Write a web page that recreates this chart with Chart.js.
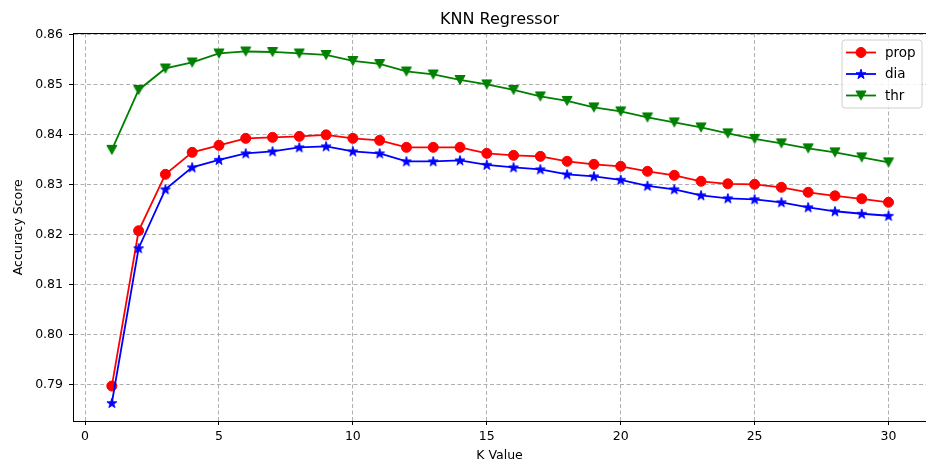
<!DOCTYPE html>
<html>
<head>
<meta charset="utf-8">
<title>KNN Regressor</title>
<script src="https://cdn.jsdelivr.net/npm/chart.js@4.4.1/dist/chart.umd.min.js"></script>
<style>
  html, body { margin: 0; padding: 0; background: #ffffff; }
  #knn-chart { display: block; }
</style>
</head>
<body>
<canvas id="knn-chart" width="926" height="463"></canvas>
<script>
// KNN regressor accuracy for each K, one series per feature set.

const kValues = [1, 2, 3, 4, 5, 6, 7, 8, 9, 10, 11, 12, 13, 14, 15, 16, 17, 18, 19, 20, 21, 22, 23, 24, 25, 26, 27, 28, 29, 30];

const propScores = [0.7897, 0.8208, 0.8321, 0.8365, 0.8379, 0.8393, 0.8395, 0.8397, 0.8400, 0.8393,
  0.8389, 0.8375, 0.8375, 0.8375, 0.8363, 0.8359, 0.8357, 0.8347, 0.8341, 0.8337,
  0.8327, 0.8319, 0.8307, 0.8302, 0.8301, 0.8295, 0.8285, 0.8278, 0.8272, 0.8265];

const diaScores = [0.7863, 0.8173, 0.8291, 0.8335, 0.8350, 0.8363, 0.8367, 0.8375, 0.8377, 0.8367,
  0.8363, 0.8347, 0.8347, 0.8349, 0.8340, 0.8335, 0.8331, 0.8321, 0.8317, 0.8310,
  0.8298, 0.8291, 0.8279, 0.8273, 0.8271, 0.8265, 0.8255, 0.8247, 0.8242, 0.8238];

const thrScores = [0.8370, 0.8490, 0.8533, 0.8545, 0.8563, 0.8567, 0.8566, 0.8563, 0.8560, 0.8548,
  0.8542, 0.8527, 0.8521, 0.8510, 0.8501, 0.8490, 0.8477, 0.8468, 0.8455, 0.8447,
  0.8435, 0.8425, 0.8415, 0.8403, 0.8392, 0.8383, 0.8373, 0.8365, 0.8355, 0.8345];

const seriesNames = ['prop', 'dia', 'thr'];
const xTicks = [0, 5, 10, 15, 20, 25, 30];
const yTicks = [0.79, 0.80, 0.81, 0.82, 0.83, 0.84, 0.85, 0.86];

const FONT = "'DejaVu Sans', 'Liberation Sans', sans-serif";

// Filled five point star, like the matplotlib '*' marker
function makeStar(color) {
  const c = document.createElement('canvas');
  c.width = 16; c.height = 16;
  const g = c.getContext('2d');
  const outer = 5.2, inner = outer * 0.382;
  g.beginPath();
  for (let i = 0; i < 10; i++) {
    const r = i % 2 === 0 ? outer : inner;
    const a = -Math.PI / 2 + i * Math.PI / 5;
    const px = 8 + r * Math.cos(a), py = 8.4 + r * Math.sin(a);
    if (i === 0) g.moveTo(px, py); else g.lineTo(px, py);
  }
  g.closePath();
  g.fillStyle = color;
  g.strokeStyle = color;
  g.lineWidth = 1;
  g.lineJoin = 'miter';
  g.fill();
  g.stroke();
  return c;
}

// Downward triangle, like the matplotlib 'v' marker
function makeTriangleDown(color) {
  const c = document.createElement('canvas');
  c.width = 16; c.height = 16;
  const g = c.getContext('2d');
  g.beginPath();
  g.moveTo(3, 3.5);
  g.lineTo(13, 3.5);
  g.lineTo(8, 12.5);
  g.closePath();
  g.fillStyle = color;
  g.strokeStyle = color;
  g.lineWidth = 1;
  g.fill();
  g.stroke();
  return c;
}

const colors = ['#ff0000', '#0000ff', '#008000'];
const markers = ['circle', makeStar(colors[1]), makeTriangleDown(colors[2])];

// Matplotlib style legend drawn inside the plot, top right
const innerLegend = {
  id: 'innerLegend',
  afterDatasetsDraw(chart) {
    const ctx = chart.ctx;
    const area = chart.chartArea;
    const boxW = 80, boxH = 68;
    const bx = area.right - 84, by = area.top + 6.5;
    ctx.save();
    ctx.beginPath();
    ctx.roundRect(bx, by, boxW, boxH, 3);
    ctx.fillStyle = 'rgba(255,255,255,0.85)';
    ctx.fill();
    ctx.strokeStyle = '#d0d0d0';
    ctx.lineWidth = 1;
    ctx.stroke();

    chart.data.datasets.forEach((ds, i) => {
      const cy = by + 12.5 + i * 21.5;
      ctx.beginPath();
      ctx.moveTo(bx + 4, cy);
      ctx.lineTo(bx + 34, cy);
      ctx.strokeStyle = ds.borderColor;
      ctx.lineWidth = ds.borderWidth;
      ctx.stroke();
      ctx.fillStyle = ds.pointBackgroundColor;
      ctx.strokeStyle = ds.pointBorderColor;
      ctx.lineWidth = 1;
      Chart.helpers.drawPoint(ctx, {
        pointStyle: ds.pointStyle,
        rotation: 0,
        radius: ds.pointRadius,
        borderWidth: 1
      }, bx + 19, cy);
      ctx.fillStyle = '#000000';
      ctx.font = '13.5px ' + FONT;
      ctx.textBaseline = 'middle';
      ctx.textAlign = 'left';
      ctx.fillText(ds.label, bx + 43, cy + 0.5);
    });
    ctx.restore();
  }
};

// Top spine of the axes box
const topSpine = {
  id: 'topSpine',
  afterDraw(chart) {
    const ctx = chart.ctx;
    const area = chart.chartArea;
    ctx.save();
    ctx.beginPath();
    ctx.moveTo(area.left, area.top);
    ctx.lineTo(area.right, area.top);
    ctx.strokeStyle = '#000000';
    ctx.lineWidth = 1;
    ctx.stroke();
    ctx.restore();
  }
};

function createKnnChart() {
  const ctx = document.getElementById('knn-chart').getContext('2d');
  const allScores = [propScores, diaScores, thrScores];

  const datasets = allScores.map((scores, i) => ({
    label: seriesNames[i],
    data: kValues.map((k, j) => ({ x: k, y: scores[j] })),
    borderColor: colors[i],
    backgroundColor: colors[i],
    pointBackgroundColor: colors[i],
    pointBorderColor: colors[i],
    pointStyle: markers[i],
    pointRadius: 5,
    pointBorderWidth: 1,
    borderWidth: 1.8,
    tension: 0,
    fill: false,
    order: 3 - i
  }));

  const gridStyle = {
    color: '#b0b0b0',
    lineWidth: 1,
    tickColor: '#000000',
    tickLength: 4,
    tickWidth: 1
  };
  const borderStyle = { color: '#000000', width: 1, dash: [4, 2.5] };

  return new Chart(ctx, {
    type: 'line',
    data: { datasets: datasets },
    options: {
      responsive: false,
      devicePixelRatio: 1,
      animation: false,
      layout: { padding: 0, autoPadding: false },
      plugins: {
        legend: { display: false },
        tooltip: { enabled: false },
        title: {
          display: true,
          fullSize: false,
          text: 'KNN Regressor',
          color: '#000000',
          font: { family: FONT, size: 16, weight: 'normal' },
          padding: { top: 10, bottom: 4.3 }
        }
      },
      scales: {
        x: {
          type: 'linear',
          min: -0.45,
          max: 31.4,
          grid: gridStyle,
          border: borderStyle,
          afterBuildTicks: scale => { scale.ticks = xTicks.map(v => ({ value: v })); },
          afterFit: scale => {
            scale.height = 42;
            scale.paddingLeft = 0;
            scale.paddingRight = 0;
          },
          ticks: {
            color: '#000000',
            padding: 4,
            maxRotation: 0,
            font: { family: FONT, size: 12.5 },
            callback: v => String(v)
          },
          title: {
            display: true,
            text: 'K Value',
            color: '#000000',
            font: { family: FONT, size: 12.5 },
            padding: { top: 0, bottom: 0 }
          }
        },
        y: {
          type: 'linear',
          min: 0.7827,
          max: 0.8603,
          grid: gridStyle,
          border: borderStyle,
          afterBuildTicks: scale => { scale.ticks = yTicks.map(v => ({ value: v })); },
          afterFit: scale => { scale.width = 73; },
          ticks: {
            color: '#000000',
            padding: 6,
            font: { family: FONT, size: 12.5 },
            callback: v => Number(v).toFixed(2)
          },
          title: {
            display: true,
            text: 'Accuracy Score',
            color: '#000000',
            font: { family: FONT, size: 12.5 },
            padding: { top: 11.5, bottom: 0 }
          }
        }
      }
    },
    plugins: [innerLegend, topSpine]
  });
}

createKnnChart();
</script>
</body>
</html>
